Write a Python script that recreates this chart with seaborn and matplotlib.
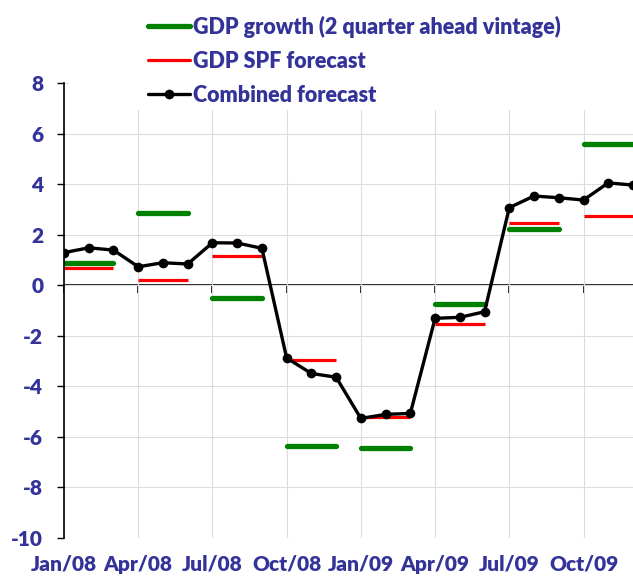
import numpy as np
import pandas as pd
import seaborn as sns
import matplotlib.pyplot as plt
from matplotlib.lines import Line2D
from matplotlib.patches import Rectangle

# ---- data ----
quarter_labels = ["Jan/08", "Apr/08", "Jul/08", "Oct/08",
                  "Jan/09", "Apr/09", "Jul/09", "Oct/09"]
# GDP growth (2 quarter ahead vintage), one value per quarter
gdp_growth = [0.89, 2.84, -0.51, -6.35, -6.45, -0.74, 2.24, 5.59]
# GDP SPF forecast, one value per quarter
spf_forecast = [0.68, 0.21, 1.16, -2.95, -5.20, -1.53, 2.45, 2.72]
# combined forecast, monthly Jan/08 .. Dec/09
combined = [1.29, 1.48, 1.39, 0.73, 0.89, 0.84, 1.68, 1.67, 1.46,
            -2.88, -3.49, -3.64, -5.27, -5.11, -5.07, -1.31, -1.27, -1.05,
            3.07, 3.53, 3.46, 3.37, 4.05, 3.96]

TXT = "#333399"
GREEN = "#008000"
RED = "#ff0000"
GRID = "#dcdcdc"
WEIGHT = "heavy"

sns.set_style("white")
plt.rcParams["font.family"] = ["Lato", "DejaVu Sans"]
plt.rcParams["font.weight"] = WEIGHT
plt.rcParams["axes.unicode_minus"] = False

# quarterly values become flat segments over the three months of the quarter
rows = []
for q, (g, s) in enumerate(zip(gdp_growth, spf_forecast)):
    for m in (3 * q, 3 * q + 2):
        rows.append({"month": m, "quarter": q, "gdp": g, "spf": s})
seg = pd.DataFrame(rows)
months = np.arange(len(combined))

fig = plt.figure(figsize=(6.33, 5.77), dpi=100)
ax = fig.add_axes([64 / 633, 1 - 538 / 577, 1 - 64 / 633, (538 - 83) / 577])

sns.lineplot(data=seg, x="month", y="gdp", units="quarter", estimator=None,
             color=GREEN, lw=3.8, solid_capstyle="round", ax=ax, legend=False)
sns.lineplot(data=seg, x="month", y="spf", units="quarter", estimator=None,
             color=RED, lw=2.3, solid_capstyle="butt", ax=ax, legend=False)
sns.lineplot(x=months, y=combined, color="black", lw=2.4, marker="o",
             markersize=7, markeredgewidth=0, ax=ax, legend=False)

ax.set_xlim(0, 23)
ax.set_ylim(-10, 8)
ax.set_yticks(np.arange(-10, 9, 2))
ax.set_xticks(np.arange(0, 24, 3))
ax.set_xticklabels(quarter_labels)
ax.set_xlabel("")
ax.set_ylabel("")

ax.set_axisbelow(True)
ax.grid(True, color=GRID, lw=0.8)
for sp in ["top", "right", "bottom"]:
    ax.spines[sp].set_visible(False)
ax.spines["left"].set_color("black")
ax.spines["left"].set_linewidth(1.2)

ax.tick_params(axis="y", length=5, width=1, color="black", pad=10,
               labelsize=15, labelcolor=TXT, left=True)
ax.tick_params(axis="x", length=0, pad=12, labelsize=15, labelcolor=TXT)
for lab in ax.get_xticklabels() + ax.get_yticklabels():
    lab.set_fontweight(WEIGHT)

# category axis crossing at zero with tick marks
sec = ax.secondary_xaxis(10 / 18)
sec.set_alignment("bottom")
sec.set_xticks(np.arange(0, 24, 3))
sec.tick_params(axis="x", length=6, width=1.2, color="black", labelbottom=False,
                labeltop=False)
for sp in sec.spines.values():
    sp.set_color("black")
    sp.set_linewidth(1.2)

# white area behind the legend
ax.add_patch(Rectangle((69 / 633, 1 - 110 / 577), 1, 1, transform=fig.transFigure,
                       facecolor="white", edgecolor="none", zorder=1, clip_on=False))

handles = [
    Line2D([], [], color=GREEN, lw=3.8, solid_capstyle="round"),
    Line2D([], [], color=RED, lw=2.3),
    Line2D([], [], color="black", lw=2.4, marker="o", markersize=7, markeredgewidth=0),
]
labels = ["GDP growth (2 quarter ahead vintage)", "GDP SPF forecast", "Combined forecast"]
leg = ax.legend(handles, labels, loc="upper left", bbox_to_anchor=(142 / 633, 0.984),
                bbox_transform=fig.transFigure, frameon=False, borderaxespad=0,
                borderpad=0.3, handlelength=1.95, handletextpad=0.1,
                labelspacing=0.6, prop={"weight": WEIGHT, "size": 15.5})
for t in leg.get_texts():
    t.set_color(TXT)

fig.savefig("out.png", dpi=100)
